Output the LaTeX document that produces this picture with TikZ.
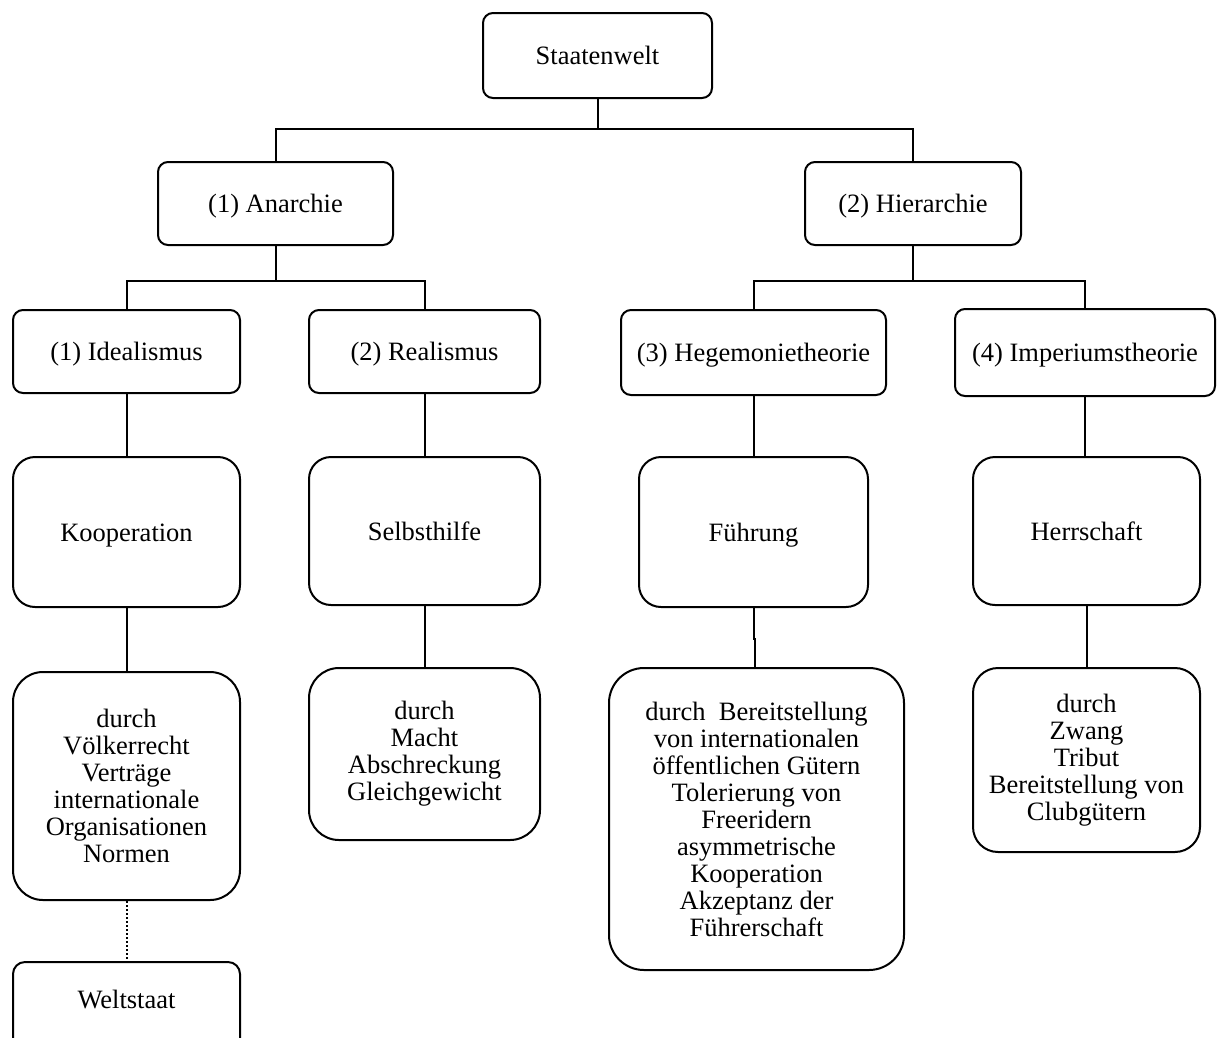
\documentclass[tikz,border=0pt]{standalone}
\usepackage{fontspec}
\setmainfont{Liberation Serif}
\usetikzlibrary{positioning}

\tikzset{
  kasten/.style={draw, line width=2pt, rounded corners=10pt, align=center,
    inner sep=0pt, font=\fontsize{26.5}{27}\selectfont},
  ebene/.style={kasten, minimum height=83pt, text height=20pt, text depth=2pt},
  inhalt/.style={kasten, rounded corners=22pt, text height=20pt, text depth=2pt},
  mittel/.style={kasten, rounded corners=30pt},
  linie/.style={line width=2pt}
}

\begin{document}
\begin{tikzpicture}[x=1pt,y=-1pt]
        \clip (0,0) rectangle (1217,1037);

        \node[ebene, minimum width=229pt, minimum height=85pt] (staat) at (597.5,55.5) {Staatenwelt};

        \node[ebene, minimum width=235pt] (anarchie) at (275.5,203.5) {(1) Anarchie};
        \node[ebene, minimum width=216pt] (hierarchie) at (913,203.5) {(2) Hierarchie};

        \node[ebene, minimum width=227pt] (ideal) at (126.5,351.5) {(1) Idealismus};
        \node[ebene, minimum width=231pt] (real) at (424.5,351.5) {(2) Realismus};
        \node[ebene, minimum width=265pt, minimum height=85pt] (hegemonie) at (753.5,352.5) {(3) Hegemonietheorie};
        \node[ebene, minimum width=260pt, minimum height=87pt] (imperium) at (1085,352.5) {(4) Imperiumstheorie};

        \node[inhalt, minimum width=227pt, minimum height=150pt] (koop) at (126.5,532) {Kooperation};
        \node[inhalt, minimum width=231pt, minimum height=148pt] (selbst) at (424.5,531) {Selbsthilfe};
        \node[inhalt, minimum width=229pt, minimum height=150pt] (fuehr) at (753.5,532) {Führung};
        \node[inhalt, minimum width=227pt, minimum height=148pt] (herr) at (1086.5,531) {Herrschaft};

        \node[mittel, minimum width=227pt, minimum height=228pt] (koopmittel) at (126.5,786)
          {durch\\Völkerrecht\\Verträge\\internationale\\Organisationen\\Normen};
        \node[mittel, minimum width=231pt, minimum height=172pt] (realmittel) at (424.5,754)
          {durch\\Macht\\Abschreckung\\Gleichgewicht};
        \node[mittel, rounded corners=35pt, minimum width=295pt, minimum height=302pt] (fuehrmittel) at (756.5,819)
          {durch\ \ Bereitstellung\\von internationalen\\öffentlichen Gütern\\Tolerierung von\\Freeridern\\asymmetrische\\Kooperation\\Akzeptanz der\\Führerschaft};
        \node[mittel, rounded corners=25pt, minimum width=227pt, minimum height=184pt] (herrmittel) at (1086.5,760)
          {durch\\Zwang\\Tribut\\Bereitstellung von\\Clubgütern};

        \node[kasten, rounded corners=12pt, minimum width=227pt, minimum height=100pt, text depth=0pt] (welt) at (126.5,1012)
          {\raisebox{25pt}{Weltstaat}};

        % Verbindungen
        \draw[linie] (staat.south) -- ++(0,30) coordinate (k1);
        \draw[linie] (k1) -| (anarchie.north);
        \draw[linie] (k1) -| (hierarchie.north);

        \draw[linie] (anarchie.south) -- ++(0,35) coordinate (k2);
        \draw[linie] (k2) -| (ideal.north);
        \draw[linie] (k2) -| (real.north);

        \draw[linie] (hierarchie.south) -- ++(0,35) coordinate (k3);
        \draw[linie] (k3) -| (hegemonie.north);
        \draw[linie] (k3) -| (imperium.north);

        \draw[linie] (ideal) -- (koop);
        \draw[linie] (real) -- (selbst);
        \draw[linie] (hegemonie) -- (fuehr);
        \draw[linie] (imperium.south) -- (herr.north -| imperium.south);

        \draw[linie] (koop) -- (koopmittel);
        \draw[linie] (selbst) -- (realmittel);
        \draw[linie] (fuehr.south) -- ++(0,31) -| ([xshift=1.5pt]fuehr.south |- fuehrmittel.north);
        \draw[linie] (herr) -- (herrmittel);

        \draw[linie, dotted] (koopmittel) -- (welt);
\end{tikzpicture}
\end{document}
